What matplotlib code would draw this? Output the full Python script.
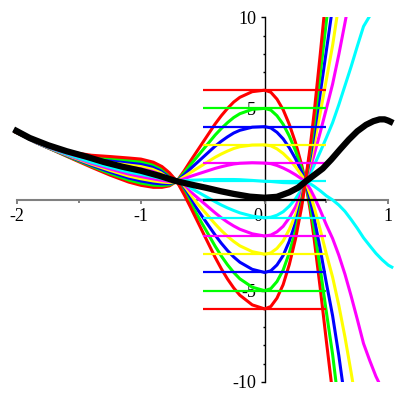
import matplotlib
matplotlib.use('Agg')
import matplotlib.pyplot as plt
from matplotlib.patches import Rectangle
from matplotlib.transforms import ScaledTranslation

plt.rcParams['font.family'] = ['Liberation Serif', 'DejaVu Serif']

# x positions shared by the coloured curves (each curve stops once it has left the view)
x = [-2.03, -1.85, -1.7, -1.55, -1.4, -1.25, -1.1, -1.0, -0.9, -0.83, -0.77, -0.71,
     -0.65, -0.6, -0.55, -0.5, -0.45, -0.4, -0.35, -0.3, -0.25, -0.2, -0.1, 0,
     0.05, 0.1, 0.15, 0.2, 0.25, 0.3, 0.33, 0.37, 0.4, 0.45, 0.5, 0.55, 0.6, 0.65,
     0.7, 0.75, 0.8, 0.85, 0.9, 0.95, 1.0, 1.04]

# value at x=0 of each coloured curve (also the height of its tangent line)
levels = [6, 5, 4, 3, 2, 1, -1, -2, -3, -4, -5, -6]
level_colors = ['#ff0000', '#00ff00', '#0000ff', '#ffff00', '#ff00ff', '#00ffff',
                '#00ffff', '#ff00ff', '#ffff00', '#0000ff', '#00ff00', '#ff0000']

y_p6 = [3.75, 3.13, 2.68, 2.22, 1.77, 1.34, 0.96, 0.78, 0.67, 0.67, 0.75, 1.0,
        1.58, 2.11, 2.62, 3.13, 3.64, 4.15, 4.6, 5.0, 5.35, 5.61, 5.92, 6.0,
        5.89, 5.51, 4.93, 4.12, 3.12, 1.89, 1.0, -0.64, -2.12, -4.87, -7.8, -10.62]
y_p5 = [3.75, 3.13, 2.69, 2.25, 1.83, 1.43, 1.07, 0.9, 0.79, 0.77, 0.81, 1.0,
        1.47, 1.9, 2.31, 2.72, 3.13, 3.54, 3.9, 4.22, 4.5, 4.71, 4.95, 5.0,
        4.91, 4.6, 4.13, 3.48, 2.68, 1.7, 1.0, -0.34, -1.55, -3.8, -6.2, -8.5, -11.3]
y_p4 = [3.75, 3.13, 2.70, 2.28, 1.88, 1.51, 1.18, 1.02, 0.9, 0.86, 0.87, 1.0,
        1.36, 1.69, 2.0, 2.31, 2.62, 2.93, 3.2, 3.44, 3.65, 3.8, 3.97, 4.0,
        3.93, 3.69, 3.33, 2.84, 2.24, 1.51, 1.0, -0.04, -0.98, -2.73, -4.6, -6.38, -8.55, -11.0]
y_p3 = [3.75, 3.14, 2.71, 2.31, 1.94, 1.6, 1.29, 1.14, 1.02, 0.96, 0.93, 1.0,
        1.25, 1.48, 1.69, 1.9, 2.11, 2.32, 2.5, 2.66, 2.8, 2.9, 2.99, 3.0,
        2.95, 2.78, 2.53, 2.2, 1.8, 1.32, 1.0, 0.26, -0.41, -1.66, -3.0, -4.26, -5.8, -7.55,
        -9.5, -11.58]
y_p2 = [3.75, 3.14, 2.73, 2.34, 1.99, 1.68, 1.4, 1.26, 1.13, 1.05, 0.99, 1.0,
        1.14, 1.27, 1.38, 1.49, 1.6, 1.71, 1.8, 1.88, 1.95, 1.99, 2.02, 2.0,
        1.97, 1.87, 1.73, 1.56, 1.36, 1.13, 1.0, 0.56, 0.16, -0.59, -1.4, -2.14, -3.05, -4.1,
        -5.3, -6.58, -7.9, -8.83, -9.7, -10.4]
y_p1 = [3.75, 3.15, 2.74, 2.37, 2.05, 1.77, 1.51, 1.38, 1.25, 1.15, 1.05, 1.0,
        1.03, 1.06, 1.07, 1.08, 1.09, 1.1, 1.1, 1.1, 1.1, 1.09, 1.05, 1.0,
        0.99, 0.96, 0.93, 0.92, 0.92, 0.94, 1.0, 0.86, 0.73, 0.48, 0.2, -0.02, -0.3, -0.65,
        -1.1, -1.58, -2.1, -2.53, -2.95, -3.3, -3.6, -3.75]
y_m1 = [3.75, 3.15, 2.76, 2.43, 2.16, 1.94, 1.73, 1.62, 1.48, 1.34, 1.17, 1.0,
        0.81, 0.64, 0.45, 0.26, 0.07, -0.12, -0.3, -0.46, -0.6, -0.73, -0.91, -1.0,
        -0.97, -0.86, -0.67, -0.36, 0.04, 0.56, 1.0, 1.46, 1.87, 2.62, 3.4, 4.22, 5.2, 6.25,
        7.3, 8.42, 9.5, 10.07]
y_m2 = [3.75, 3.16, 2.77, 2.46, 2.21, 2.02, 1.84, 1.74, 1.59, 1.43, 1.23, 1.0,
        0.7, 0.43, 0.14, -0.15, -0.44, -0.73, -1.0, -1.24, -1.45, -1.63, -1.88, -2.0,
        -1.95, -1.77, -1.47, -1.0, -0.4, 0.37, 1.0, 1.76, 2.44, 3.69, 5.0, 6.34, 7.95, 9.7,
        11.5]
y_m3 = [3.75, 3.16, 2.79, 2.49, 2.27, 2.11, 1.95, 1.86, 1.71, 1.53, 1.29, 1.0,
        0.59, 0.22, -0.17, -0.56, -0.95, -1.34, -1.7, -2.02, -2.3, -2.54, -2.86, -3.0,
        -2.93, -2.68, -2.27, -1.64, -0.84, 0.18, 1.0, 2.06, 3.01, 4.76, 6.6, 8.46, 10.7]
y_m4 = [3.75, 3.17, 2.80, 2.52, 2.32, 2.19, 2.06, 1.98, 1.82, 1.62, 1.35, 1.0,
        0.48, 0.01, -0.48, -0.97, -1.46, -1.95, -2.4, -2.8, -3.15, -3.44, -3.83, -4.0,
        -3.91, -3.59, -3.07, -2.28, -1.28, -0.01, 1.0, 2.36, 3.58, 5.83, 8.2, 10.58]
y_m5 = [3.75, 3.17, 2.81, 2.55, 2.38, 2.28, 2.17, 2.1, 1.94, 1.72, 1.41, 1.0,
        0.37, -0.2, -0.79, -1.38, -1.97, -2.56, -3.1, -3.58, -4.0, -4.35, -4.81, -5.0,
        -4.89, -4.5, -3.87, -2.92, -1.72, -0.2, 1.0, 2.66, 4.15, 6.9, 9.8, 12.7]
y_m6 = [3.75, 3.17, 2.82, 2.58, 2.43, 2.36, 2.28, 2.22, 2.05, 1.81, 1.47, 1.0,
        0.26, -0.41, -1.1, -1.79, -2.48, -3.17, -3.8, -4.36, -4.85, -5.25, -5.78, -6.0,
        -5.87, -5.41, -4.67, -3.56, -2.16, -0.39, 1.0, 2.96, 4.72, 7.97, 11.4]
curves = [y_p6, y_p5, y_p4, y_p3, y_p2, y_p1, y_m1, y_m2, y_m3, y_m4, y_m5, y_m6]

# thick black curve
xb = [-2.03, -1.9, -1.75, -1.6, -1.45, -1.3, -1.15, -1.0, -0.85, -0.72, -0.6, -0.47,
      -0.35, -0.25, -0.12, 0, 0.1, 0.2, 0.27, 0.33, 0.4, 0.47, 0.54, 0.61, 0.68, 0.75,
      0.82, 0.88, 0.93, 0.97, 1.0, 1.04]
yb = [3.85, 3.38, 2.98, 2.65, 2.37, 2.06, 1.8, 1.58, 1.3, 1.02, 0.83, 0.64,
      0.45, 0.31, 0.16, 0.1, 0.15, 0.4, 0.65, 0.98, 1.34, 1.7, 2.2, 2.75, 3.28, 3.75,
      4.1, 4.3, 4.4, 4.4, 4.33, 4.2]
black_level = 0

tangent_x = [-0.5, 0.5]
x_major = [-2, -1, 0, 1]
x_labels = ['-2', '-1', '0', '1']
x_minor = [-1.5, -0.5, 0.5]
y_major = [-10, -5, 5, 10]
y_labels = ['-10', '-5', '5', '10']
y_minor = list(range(-10, 11))

fig = plt.figure(figsize=(4, 4), dpi=100)
ax = fig.add_axes([0, 0, 1, 1])
ax.set_xlim(-2.14, 1.095)
ax.set_ylim(-11.0, 10.95)
ax.patch.set_visible(False)

view = Rectangle((-3, -10), 5, 20, transform=ax.transData)

for y, c in zip(curves, level_colors):
    line, = ax.plot(x[:len(y)], y, color=c, lw=2.2, solid_capstyle='butt',
                    solid_joinstyle='round', zorder=2)
    line.set_clip_path(view)

ax.hlines(levels, tangent_x[0], tangent_x[1], colors=level_colors, lw=1.6, zorder=3)
ax.hlines([black_level], tangent_x[0], tangent_x[1], colors='black', lw=1.6, zorder=3)
ax.plot(xb, yb, color='black', lw=4.5, solid_capstyle='butt', solid_joinstyle='round', zorder=4)

for side in ['top', 'right']:
    ax.spines[side].set_visible(False)
ax.spines['left'].set_position(('data', 0))
ax.spines['bottom'].set_position(('data', 0))
ax.spines['left'].set_bounds(-10, 10)
ax.spines['bottom'].set_bounds(-2, 1)
ax.spines['left'].set_color('black')
ax.spines['left'].set_linewidth(1.0)
ax.spines['bottom'].set_color('#808080')
ax.spines['bottom'].set_linewidth(1.5)
ax.spines['left'].set_zorder(1)
ax.spines['bottom'].set_zorder(1)

ax.set_xticks(x_major)
ax.set_xticklabels(x_labels)
ax.set_xticks(x_minor, minor=True)
ax.set_yticks(y_major)
ax.set_yticklabels(y_labels)
ax.set_yticks(y_minor, minor=True)
ax.tick_params(axis='x', which='major', direction='out', length=3, width=1.4, color='#808080',
               pad=3, labelsize=13)
ax.tick_params(axis='x', which='minor', direction='out', length=2.5, width=1.4, color='#808080')
ax.tick_params(axis='y', which='major', direction='out', length=3, width=1.0, color='black',
               pad=3, labelsize=13)
ax.tick_params(axis='y', which='minor', direction='out', length=1.5, width=1.0, color='black')

# the origin label sits a little to the left of the vertical axis
for lab in ax.get_xticklabels():
    if lab.get_text() == '0':
        lab.set_transform(lab.get_transform() + ScaledTranslation(-7 / 100, 0, fig.dpi_scale_trans))

fig.savefig('out.png', dpi=100)
